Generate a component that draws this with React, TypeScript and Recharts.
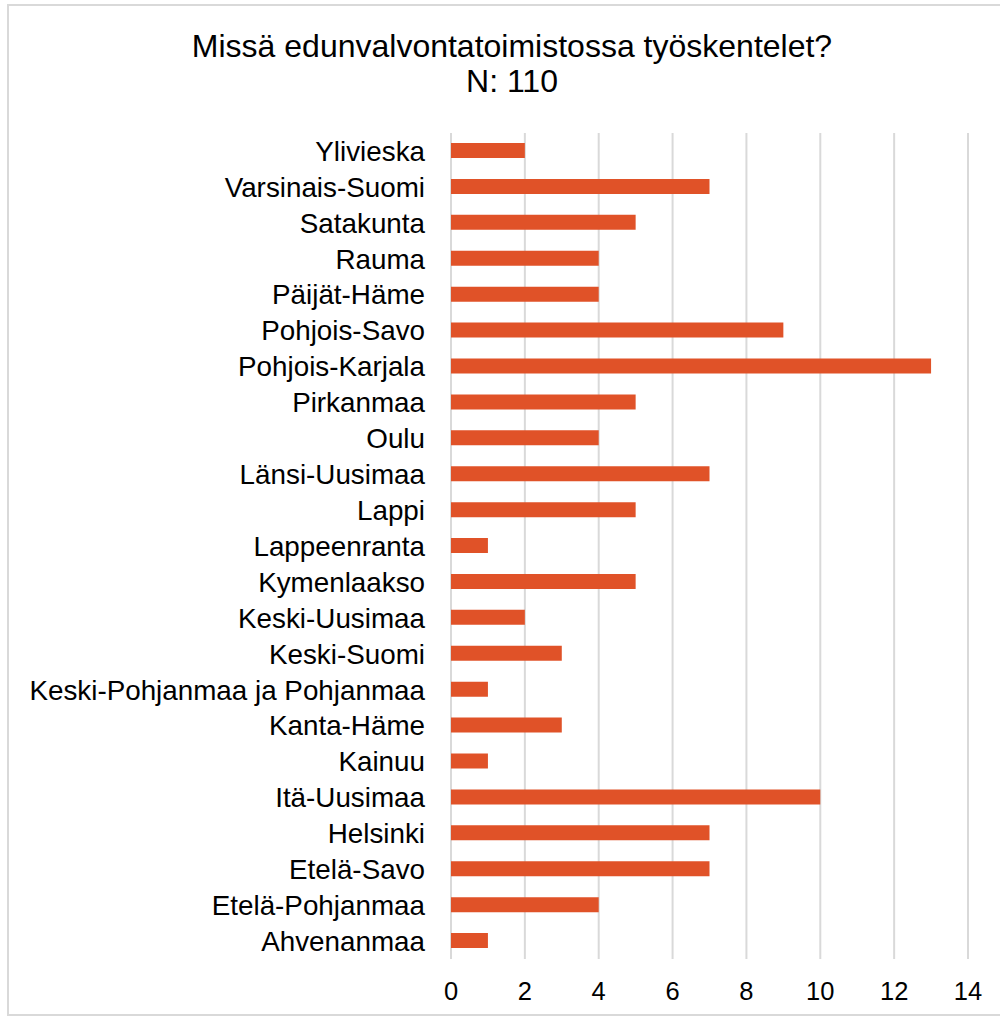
import { BarChart, Bar, XAxis, YAxis, CartesianGrid } from 'recharts';

const offices = [
  'Ylivieska',
  'Varsinais-Suomi',
  'Satakunta',
  'Rauma',
  'Päijät-Häme',
  'Pohjois-Savo',
  'Pohjois-Karjala',
  'Pirkanmaa',
  'Oulu',
  'Länsi-Uusimaa',
  'Lappi',
  'Lappeenranta',
  'Kymenlaakso',
  'Keski-Uusimaa',
  'Keski-Suomi',
  'Keski-Pohjanmaa ja Pohjanmaa',
  'Kanta-Häme',
  'Kainuu',
  'Itä-Uusimaa',
  'Helsinki',
  'Etelä-Savo',
  'Etelä-Pohjanmaa',
  'Ahvenanmaa',
];

const counts = [2, 7, 5, 4, 4, 9, 13, 5, 4, 7, 5, 1, 5, 2, 3, 1, 3, 1, 10, 7, 7, 4, 1];

const xTicks = [0, 2, 4, 6, 8, 10, 12, 14];

const data = offices.map((name, i) => ({ name, value: counts[i] }));

const font = 'Arial, "Liberation Sans", sans-serif';

export default function App() {
  return (
    <div
      style={{
        position: 'absolute',
        left: 0,
        top: 0,
        width: 1000,
        height: 1019,
        background: '#fff',
        overflow: 'hidden',
        fontFamily: font,
      }}
    >
      <div
        style={{
          position: 'absolute',
          left: 7,
          top: 4,
          width: 1010,
          height: 1008,
          border: '2px solid #d9d9d9',
        }}
      />
      <div
        style={{
          position: 'absolute',
          left: 0,
          top: 29,
          width: 1024,
          textAlign: 'center',
          fontSize: 32,
          lineHeight: '35px',
          color: '#000',
        }}
      >
        Missä edunvalvontatoimistossa työskentelet?
        <br />
        N: 110
      </div>
      <div style={{ position: 'absolute', left: 0, top: 0 }}>
        <BarChart
          width={1000}
          height={1019}
          data={data}
          layout="vertical"
          margin={{ top: 133, right: 32, bottom: 8, left: 0 }}
        >
          <CartesianGrid horizontal={false} stroke="#d9d9d9" strokeWidth={2} />
          <XAxis
            type="number"
            domain={[0, 14]}
            ticks={xTicks}
            axisLine={false}
            tickLine={false}
            tickMargin={17}
            height={52}
            tick={{ fill: '#000', fontSize: 25.5, fontFamily: font }}
          />
          <YAxis
            type="category"
            dataKey="name"
            width={451}
            axisLine={false}
            tickLine={false}
            tickMargin={20}
            interval={0}
            tick={{ fill: '#000', fontSize: 27.8, fontFamily: font }}
          />
          <Bar dataKey="value" fill="#e05228" barSize={15} isAnimationActive={false} />
        </BarChart>
      </div>
    </div>
  );
}
